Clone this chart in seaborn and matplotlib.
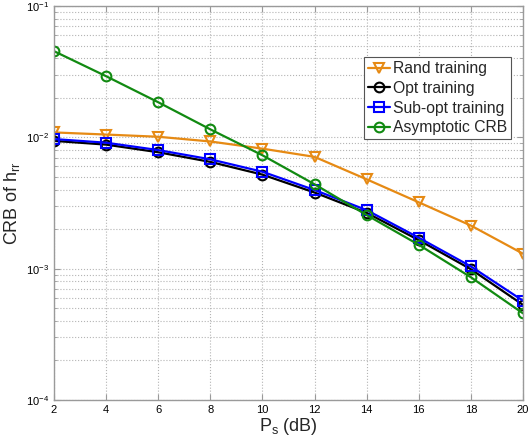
import pandas as pd
import matplotlib
matplotlib.use('Agg')
import matplotlib.pyplot as plt
import seaborn as sns
from matplotlib.ticker import LogLocator, FixedLocator

# data
ps_db = [2, 4, 6, 8, 10, 12, 14, 16, 18, 20]
crb_rand = [0.0109, 0.0105, 0.0101, 0.0093, 0.0082, 0.0071, 0.00479, 0.0032, 0.00213, 0.0013]
crb_opt = [0.0094, 0.0088, 0.0077, 0.0065, 0.0052, 0.0038, 0.00266, 0.00165, 0.00099, 0.00053]
crb_subopt = [0.0097, 0.0091, 0.0080, 0.0068, 0.00547, 0.00397, 0.00279, 0.00172, 0.00104, 0.00057]
crb_asym = [0.0453, 0.0292, 0.0185, 0.0115, 0.0073, 0.00439, 0.00256, 0.00152, 0.00086, 0.000457]

labels = ['Rand training', 'Opt training', 'Sub-opt training', 'Asymptotic CRB']
ORANGE = '#E68A14'
BLACK = '#000000'
BLUE = '#0000FF'
GREEN = '#118A11'
AX_GRAY = '#9a9a9a'

sns.set_style('ticks')
plt.rcParams['font.family'] = ['Liberation Sans', 'DejaVu Sans']
plt.rcParams['mathtext.fontset'] = 'custom'
plt.rcParams['mathtext.rm'] = 'Liberation Sans'
plt.rcParams['mathtext.it'] = 'Liberation Sans:italic'

fig = plt.figure(figsize=(5.31, 4.42), dpi=100)
ax = fig.add_axes([54 / 531, 42 / 442, 469 / 531, 394 / 442])

series = [
    (crb_rand, ORANGE, 'v'),
    (crb_opt, BLACK, 'o'),
    (crb_subopt, BLUE, 's'),
    (crb_asym, GREEN, 'o'),
]
for (vals, col, mk), lab in zip(series, labels):
    df = pd.DataFrame({'Ps': ps_db, 'CRB': vals})
    sns.lineplot(data=df, x='Ps', y='CRB', ax=ax, color=col, marker=mk,
                 markersize=7, markerfacecolor='none', markeredgecolor=col,
                 markeredgewidth=1.5, linewidth=1.6, label=lab)

ax.set_yscale('log')
ax.set_xlim(2, 20)
ax.set_ylim(1e-4, 1e-1)
ax.xaxis.set_major_locator(FixedLocator(ps_db))
ax.yaxis.set_major_locator(LogLocator(base=10, numticks=10))
ax.yaxis.set_minor_locator(LogLocator(base=10, subs=range(2, 10), numticks=20))

ax.grid(True, which='major', linestyle=':', color='#b4b4b4', linewidth=0.8)
ax.grid(True, which='minor', axis='y', linestyle=':', color='#b4b4b4', linewidth=0.8)

ax.tick_params(which='both', direction='in', colors=AX_GRAY, labelcolor='black',
               labelsize=8, top=True, right=True)
ax.tick_params(which='major', length=4)
ax.tick_params(which='minor', length=2)
for sp in ax.spines.values():
    sp.set_color(AX_GRAY)
    sp.set_linewidth(1.0)

ax.set_xlabel('P$_\\mathregular{s}$ (dB)', fontsize=13, labelpad=1)
ax.set_ylabel('CRB of h$_\\mathregular{rr}$', fontsize=13, labelpad=3)

leg = ax.legend(loc='upper right', bbox_to_anchor=(0.975, 0.87), fontsize=11.3,
                fancybox=False, framealpha=1, edgecolor='#555555',
                handlelength=1.4, handletextpad=0.2, borderpad=0.25,
                labelspacing=0.3, borderaxespad=0)
leg.get_frame().set_linewidth(0.8)

fig.savefig('out.png', dpi=100)
